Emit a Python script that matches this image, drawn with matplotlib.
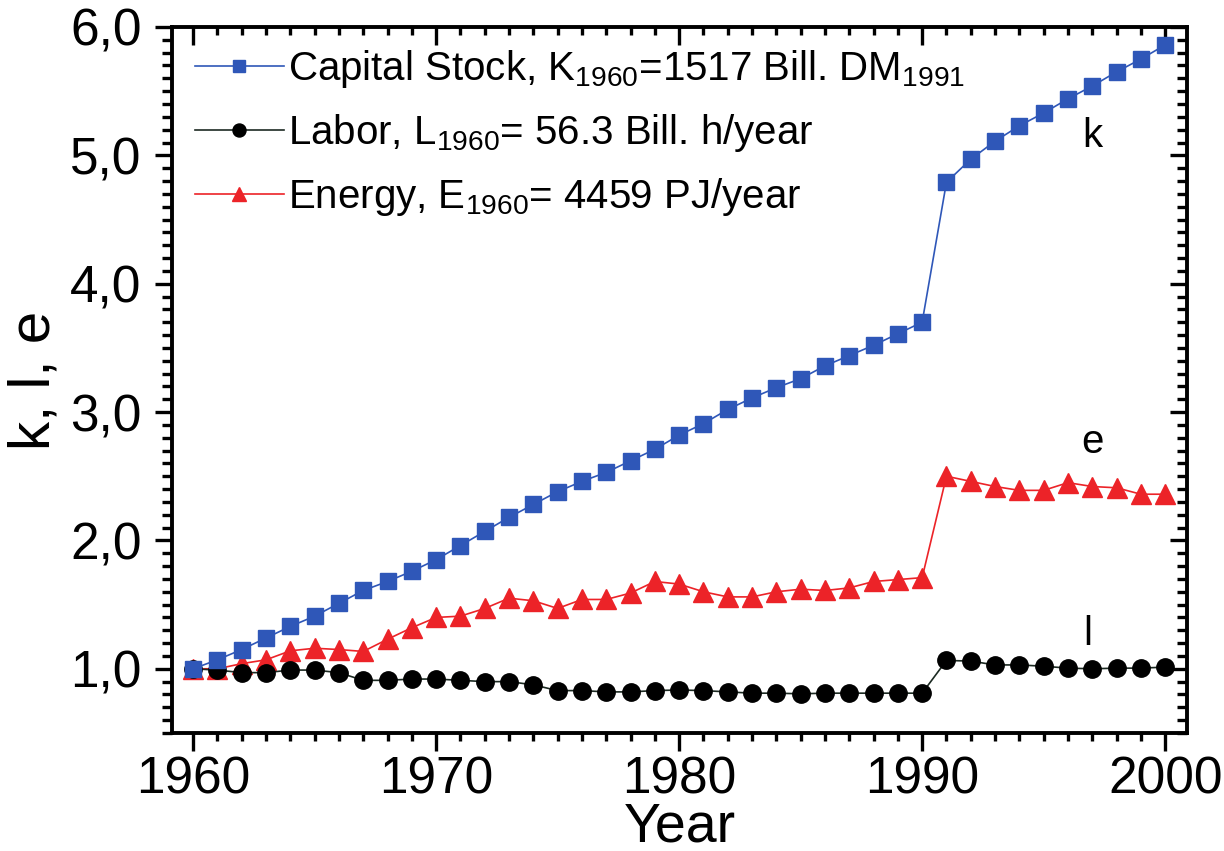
import matplotlib

matplotlib.use("Agg")
import matplotlib.pyplot as plt
from matplotlib.ticker import FuncFormatter, MultipleLocator

plt.rcParams["font.family"] = ["Liberation Sans", "DejaVu Sans"]
plt.rcParams["mathtext.fontset"] = "custom"
plt.rcParams["mathtext.rm"] = "Liberation Sans"
plt.rcParams["mathtext.it"] = "Liberation Sans:italic"

# normalised factor inputs, 1960 = 1
years = list(range(1960, 2001))
capital = [1.00, 1.07, 1.15, 1.24, 1.33, 1.41, 1.51, 1.61, 1.68, 1.76,
           1.85, 1.96, 2.07, 2.18, 2.28, 2.38, 2.46, 2.53, 2.62, 2.71,
           2.82, 2.91, 3.02, 3.11, 3.19, 3.26, 3.36, 3.44, 3.52, 3.61,
           3.70, 4.79, 4.97, 5.11, 5.23, 5.33, 5.44, 5.54, 5.65, 5.75, 5.86]
labor = [1.00, 0.99, 0.97, 0.97, 0.99, 0.99, 0.97, 0.91, 0.91, 0.92,
         0.92, 0.91, 0.90, 0.90, 0.875, 0.83, 0.83, 0.82, 0.82, 0.83,
         0.835, 0.83, 0.82, 0.81, 0.81, 0.805, 0.81, 0.81, 0.81, 0.81,
         0.81, 1.065, 1.06, 1.03, 1.03, 1.02, 1.005, 1.00, 1.005, 1.005, 1.013]
energy = [1.00, 1.00, 1.04, 1.07, 1.14, 1.16, 1.15, 1.135, 1.23, 1.32,
          1.40, 1.41, 1.47, 1.55, 1.53, 1.47, 1.54, 1.54, 1.59, 1.68,
          1.66, 1.60, 1.56, 1.56, 1.60, 1.62, 1.61, 1.63, 1.68, 1.695,
          1.71, 2.50, 2.46, 2.42, 2.39, 2.39, 2.45, 2.42, 2.41, 2.36, 2.36]

labels = [
    r"Capital Stock, K$_{1960}$=1517 Bill. DM$_{1991}$",
    r"Labor, L$_{1960}$= 56.3 Bill. h/year",
    r"Energy, E$_{1960}$= 4459 PJ/year",
]

BLUE = "#2f57b8"
RED = "#ec2328"
BLACK = "#000000"

fig = plt.figure(figsize=(12.24, 8.51), dpi=100)
ax = fig.add_axes([0.1405, 0.1387, 0.8293, 0.8296])

h_e, = ax.plot(years, energy, color=RED, lw=1.2, marker="^", ms=14,
               mec=RED, mfc=RED, zorder=2)
h_l, = ax.plot(years, labor, color="#1c2a22", lw=1.2, marker="o", ms=12.5,
               mec=BLACK, mfc=BLACK, zorder=3)
h_k, = ax.plot(years, capital, color=BLUE, lw=1.2, marker="s", ms=11.5,
               mec=BLUE, mfc=BLUE, zorder=4)

leg = ax.legend([h_k, h_l, h_e], labels, loc="upper left",
                bbox_to_anchor=(-0.005, 1.01), frameon=False, fontsize=29,
                handlelength=2.2, handletextpad=0.1, labelspacing=0.55,
                borderaxespad=0.3, markerscale=0.75)

ax.text(1997.0, 5.15, "k", fontsize=29, ha="center", va="center")
ax.text(1997.0, 2.77, "e", fontsize=29, ha="center", va="center")
ax.text(1996.8, 1.27, "l", fontsize=29, ha="center", va="center")

ax.set_xlim(1959.13, 2000.9)
ax.set_ylim(0.5, 6.0)

ax.xaxis.set_major_locator(MultipleLocator(10))
ax.xaxis.set_minor_locator(MultipleLocator(1))
ax.yaxis.set_major_locator(MultipleLocator(1))
ax.yaxis.set_minor_locator(MultipleLocator(0.1))
ax.yaxis.set_major_formatter(FuncFormatter(lambda v, _: f"{v:.1f}".replace(".", ",")))

for s in ax.spines.values():
    s.set_linewidth(2.8)

ax.tick_params(axis="both", which="major", labelsize=37, width=2.4)
ax.tick_params(axis="both", which="minor", width=2.4)
ax.tick_params(axis="x", which="major", direction="out", length=13, pad=3,
               top=True)
ax.tick_params(axis="x", which="minor", direction="out", length=6, top=True)
ax.tick_params(axis="y", which="major", direction="out", length=12, pad=10,
               right=True)
ax.tick_params(axis="y", which="minor", direction="out", length=7, right=True)
# mirrored ticks on top/right point into the frame
for t in ax.xaxis.get_major_ticks() + ax.xaxis.get_minor_ticks():
    t.tick2line.set_marker(matplotlib.lines.TICKDOWN)
for t in ax.yaxis.get_major_ticks() + ax.yaxis.get_minor_ticks():
    t.tick2line.set_marker(matplotlib.lines.TICKLEFT)

ax.set_xlabel("Year", fontsize=40, labelpad=-2)
ax.set_ylabel("k, l, e", fontsize=42, labelpad=6)

fig.savefig("out.png", dpi=100)
